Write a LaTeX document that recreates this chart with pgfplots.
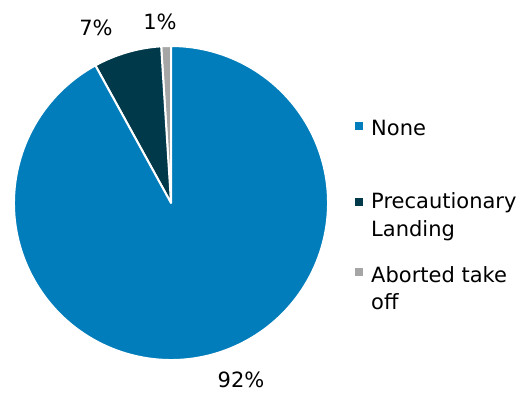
\documentclass[border=0pt]{standalone}
\usepackage{pgfplots}
\usepackage{pgfplotstable}
\pgfplotsset{compat=1.18}
\usepackage{fontspec}
\setmainfont{DejaVu Sans}
\definecolor{cNone}{RGB}{0,125,186}
\definecolor{cPrec}{RGB}{0,57,74}
\definecolor{cAbort}{RGB}{166,166,166}
% shares, counter-clockwise from 12 o'clock: Aborted take off, Precautionary Landing, None
\pgfplotstableread{
label value
Aborted 1
Precautionary 7
None 92
}\piedata
\begin{document}
\begin{tikzpicture}[every node/.style={font=\fontsize{21}{28}\selectfont, inner sep=0pt}]
\useasboundingbox (0,0) rectangle (521pt,394pt);
\pgfplotstablegetelem{0}{value}\of\piedata\edef\vA{\pgfplotsretval}
\pgfplotstablegetelem{1}{value}\of\piedata\edef\vB{\pgfplotsretval}
\pgfplotstablegetelem{2}{value}\of\piedata\edef\vC{\pgfplotsretval}
\pgfmathsetmacro\aA{90}
\pgfmathsetmacro\aB{\aA+3.6*\vA}
\pgfmathsetmacro\aC{\aB+3.6*\vB}
\pgfmathsetmacro\aD{\aC+3.6*\vC}
\begin{axis}[at={(0,0)}, anchor=south west, width=521pt, height=394pt, scale only axis,
  xmin=0, xmax=521, ymin=0, ymax=394, hide axis, clip=false]
\fill[cAbort, draw=white, line width=2pt, line join=round] (axis cs:171,191) -- ++(\aA:157pt) arc[start angle=\aA, end angle=\aB, radius=157pt] -- cycle;
\fill[cPrec, draw=white, line width=2pt, line join=round] (axis cs:171,191) -- ++(\aB:157pt) arc[start angle=\aB, end angle=\aC, radius=157pt] -- cycle;
\fill[cNone, draw=white, line width=2pt, line join=round] (axis cs:171,191) -- ++(\aC:157pt) arc[start angle=\aC, end angle=\aD, radius=157pt] -- cycle;
% data labels
\node at (axis cs:96,366) {7\%};
\node at (axis cs:160,372) {1\%};
\node at (axis cs:241,14) {92\%};
% legend
\fill[cNone] (axis cs:355,263.5) rectangle (axis cs:363,271.5);
\fill[cPrec] (axis cs:355,188) rectangle (axis cs:363,196);
\fill[cAbort] (axis cs:355,118) rectangle (axis cs:363,126);
\node[anchor=base west] at (axis cs:371,258.5) {None};
\node[anchor=base west] at (axis cs:371,185.5) {Precautionary};
\node[anchor=base west] at (axis cs:371,157.5) {Landing};
\node[anchor=base west] at (axis cs:371,111.5) {Aborted take};
\node[anchor=base west] at (axis cs:371,84.5) {off};
\end{axis}
\end{tikzpicture}
\end{document}
